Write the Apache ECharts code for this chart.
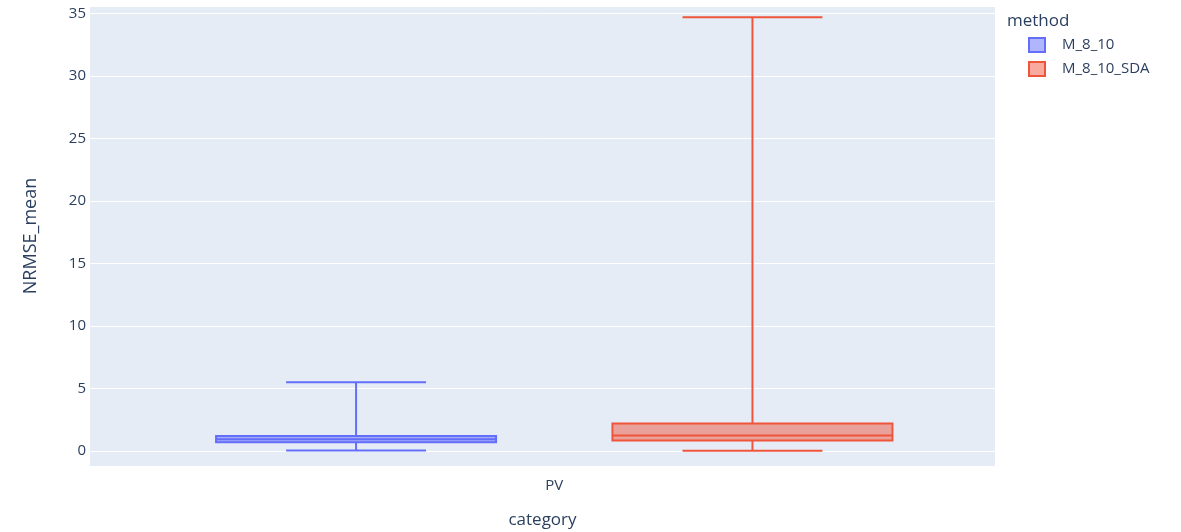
<!DOCTYPE html>
<html>
<head>
<meta charset="utf-8">
<script src="https://cdn.jsdelivr.net/npm/echarts@6/dist/echarts.min.js"></script>
<style>
html,body{margin:0;padding:0;background:#fff;}
#chart{width:1181px;height:532px;}
</style>
</head>
<body>
<div id="chart"></div>
<script>
// ---- data ----
const categories = ['PV'];
const methods = ['M_8_10', 'M_8_10_SDA'];
// [min, q1, median, q3, max]
const statsM810 = [0.05, 0.7, 0.95, 1.2, 5.5];
const statsM810SDA = [0.03, 0.85, 1.25, 2.2, 34.7];
const yTicks = [0, 5, 10, 15, 20, 25, 30, 35];

const lineColors = ['#636efa', '#EF553B'];
const fillColors = ['rgba(99,110,250,0.5)', 'rgba(239,85,59,0.5)'];
const offsets = [-0.219, 0.219];   // group offsets (axis units)
const halfBox = 0.1547;
const halfCap = 0.0773;
const FONT = '"Open Sans", "DejaVu Sans", sans-serif';
const TXT = '#2a3f5f';

function makeRender(si) {
  return function (params, api) {
    const x = api.value(0) + offsets[si];
    const mn = api.value(1), q1 = api.value(2), med = api.value(3), q3 = api.value(4), mx = api.value(5);
    const p = (dx, v) => api.coord([x + dx, v]);
    const stroke = { stroke: lineColors[si], lineWidth: 2, fill: null };
    const a = p(-halfBox, q3), b = p(halfBox, q1);
    const children = [
      { type: 'rect', shape: { x: a[0], y: a[1], width: b[0] - a[0], height: b[1] - a[1] },
        style: { fill: fillColors[si], stroke: lineColors[si], lineWidth: 2 } },
      { type: 'line', shape: { x1: p(-halfBox, med)[0], y1: p(0, med)[1], x2: p(halfBox, med)[0], y2: p(0, med)[1] }, style: stroke },
      { type: 'line', shape: { x1: p(0, q3)[0], y1: p(0, q3)[1], x2: p(0, mx)[0], y2: p(0, mx)[1] }, style: stroke },
      { type: 'line', shape: { x1: p(0, q1)[0], y1: p(0, q1)[1], x2: p(0, mn)[0], y2: p(0, mn)[1] }, style: stroke },
      { type: 'line', shape: { x1: p(-halfCap, mx)[0], y1: p(0, mx)[1], x2: p(halfCap, mx)[0], y2: p(0, mx)[1] }, style: stroke },
      { type: 'line', shape: { x1: p(-halfCap, mn)[0], y1: p(0, mn)[1], x2: p(halfCap, mn)[0], y2: p(0, mn)[1] }, style: stroke }
    ];
    return { type: 'group', children };
  };
}

const allStats = [statsM810, statsM810SDA];
const series = methods.map((m, si) => ({
  name: m,
  type: 'custom',
  renderItem: makeRender(si),
  encode: { x: 0, y: [1, 2, 3, 4, 5] },
  itemStyle: { color: fillColors[si], borderColor: lineColors[si], borderWidth: 2 },
  data: [[categories.indexOf('PV')].concat(allStats[si])],
  clip: false
}));

const chart = echarts.init(document.getElementById('chart'));
chart.setOption({
  animation: false,
  backgroundColor: '#ffffff',
  title: {
    text: 'method', left: 1002, top: 8,
    textStyle: { fontFamily: FONT, fontSize: 17, fontWeight: 'normal', color: TXT }
  },
  legend: {
    orient: 'vertical', left: 1023, top: 32,
    itemWidth: 16, itemHeight: 14, itemGap: 8,
    textStyle: { fontFamily: FONT, fontSize: 15, color: TXT, padding: [0, 0, 0, 12] },
    data: methods.map((m, i) => ({
      name: m, icon: 'rect',
      itemStyle: { color: fillColors[i], borderColor: lineColors[i], borderWidth: 2 }
    }))
  },
  grid: {
    left: 90, right: 186, top: 6, bottom: 66,
    outerBoundsMode: 'none', containLabel: false,
    show: true, backgroundColor: '#E5ECF6', borderWidth: 0
  },
  xAxis: {
    type: 'value', min: -0.513, max: 0.487, interval: 0.513,
    name: 'category', nameLocation: 'middle', nameGap: 46,
    nameTextStyle: { fontFamily: FONT, fontSize: 17, color: TXT },
    axisLine: { show: false }, axisTick: { show: false }, splitLine: { show: false },
    axisLabel: {
      margin: 12, fontFamily: FONT, fontSize: 15, color: TXT,
      showMinLabel: false, showMaxLabel: false,
      formatter: v => (Math.abs(v) < 1e-9 ? categories[0] : '')
    }
  },
  yAxis: {
    type: 'value', min: -1.2, max: 35.6, splitNumber: 8,
    name: 'NRMSE_mean', nameLocation: 'middle', nameGap: 50,
    nameTextStyle: { fontFamily: FONT, fontSize: 18, color: TXT },
    axisLine: { show: false }, axisTick: { show: false },
    splitLine: { lineStyle: { color: '#ffffff', width: 1 } },
    axisLabel: {
      margin: 4, fontFamily: FONT, fontSize: 15, color: TXT,
      showMinLabel: false, showMaxLabel: false,
      formatter: v => (yTicks.indexOf(v) >= 0 ? String(v) : '')
    }
  },
  series
});
</script>
</body>
</html>
